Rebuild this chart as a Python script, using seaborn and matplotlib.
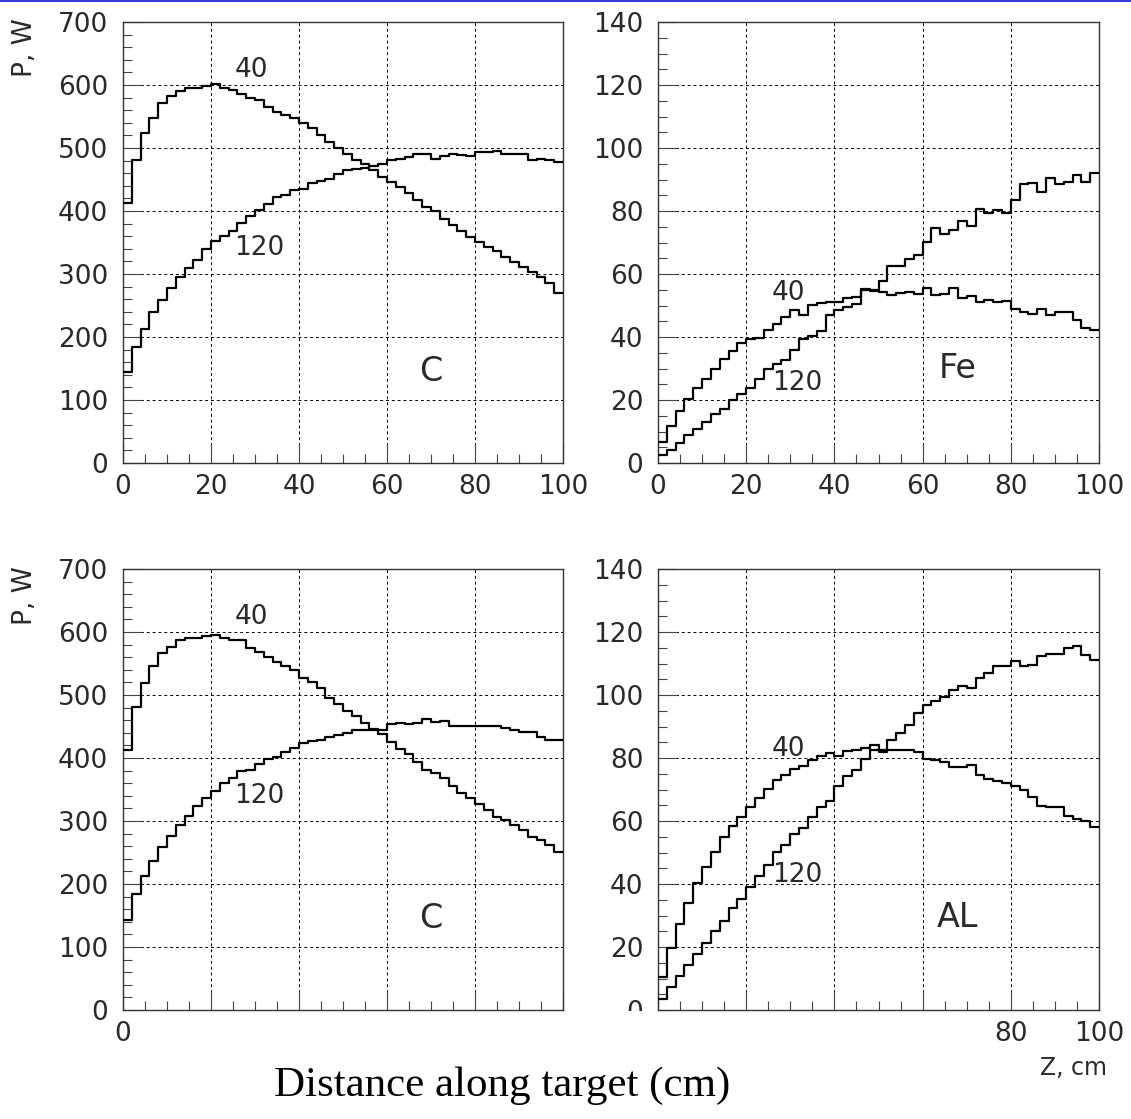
import numpy as np
import pandas as pd
import matplotlib
matplotlib.use("Agg")
import matplotlib.pyplot as plt
import seaborn as sns
from matplotlib.ticker import MultipleLocator
from matplotlib.patches import Rectangle

# ---------------- data (50 bins of 2 cm along the target) ----------------
z_centers = np.arange(1, 100, 2)          # bin centres, cm

c_top_40 = [412, 481, 524, 547, 571, 582, 590, 595, 596, 599,
            601, 596, 592, 585, 580, 576, 565, 557, 552, 547,
            540, 531, 520, 510, 500, 490, 481, 475, 465, 454,
            446, 438, 429, 417, 407, 400, 388, 377, 368, 359,
            351, 343, 336, 327, 319, 311, 303, 296, 285, 270]
c_top_120 = [144, 184, 213, 239, 258, 277, 295, 310, 323, 339,
             352, 360, 369, 381, 392, 402, 411, 422, 425, 433,
             435, 444, 447, 451, 458, 465, 466, 468, 471, 475,
             481, 482, 486, 490, 491, 483, 487, 491, 489, 488,
             494, 494, 495, 490, 491, 491, 481, 483, 481, 477]

fe_40 = [6.7, 11.7, 16.5, 20.4, 23.8, 26.6, 29.7, 33.1, 35.6, 38.1,
         39.5, 39.8, 42.3, 44.2, 46.3, 48.7, 47.1, 50.3, 50.8, 51.1,
         51.1, 52.4, 52.7, 55.3, 54.6, 54.3, 53.2, 54.1, 54.3, 53.8,
         55.7, 53.2, 53.8, 55.7, 52.4, 53.1, 51.1, 51.9, 51.1, 51.3,
         49.0, 47.9, 47.4, 49.0, 47.1, 47.9, 47.9, 45.3, 42.9, 42.3]
fe_120 = [2.4, 4.0, 6.3, 8.8, 10.9, 13.0, 15.7, 17.2, 19.9, 22.0,
          23.8, 26.8, 29.9, 31.3, 32.8, 36.0, 39.5, 40.2, 41.8, 46.9,
          48.5, 49.5, 50.6, 55.0, 54.8, 57.7, 62.4, 62.4, 64.9, 65.9,
          70.2, 74.6, 72.8, 73.9, 76.8, 75.2, 80.7, 79.4, 80.4, 79.4,
          83.6, 88.7, 89.0, 86.0, 90.5, 88.7, 89.2, 91.5, 89.2, 92.1]

c_bot_40 = [412, 481, 519, 546, 566, 576, 587, 590, 591, 594,
            596, 590, 587, 587, 574, 569, 561, 553, 546, 540,
            527, 520, 511, 495, 486, 475, 466, 456, 446, 438,
            426, 414, 407, 394, 381, 376, 368, 356, 345, 336,
            327, 317, 307, 301, 294, 285, 275, 270, 262, 251]
c_bot_120 = [143, 184, 213, 237, 258, 276, 294, 308, 324, 336,
             347, 361, 368, 379, 381, 391, 398, 402, 410, 416,
             424, 427, 429, 433, 437, 440, 445, 445, 445, 445,
             454, 456, 454, 456, 462, 457, 459, 451, 451, 451,
             451, 451, 451, 447, 445, 442, 441, 434, 428, 428]

al_40 = [10.4, 19.6, 27.2, 33.9, 40.3, 45.3, 50.2, 54.9, 58.3, 61.2,
         64.6, 67.3, 70.2, 73.1, 74.7, 76.5, 77.5, 79.4, 80.5, 81.6,
         80.5, 82.1, 82.6, 83.2, 84.0, 82.4, 82.4, 82.4, 82.4, 81.9,
         79.8, 79.4, 78.6, 77.1, 77.1, 77.9, 74.7, 73.3, 72.6, 72.2,
         71.2, 69.7, 67.6, 64.8, 64.6, 64.4, 61.7, 60.6, 60.1, 58.1]
al_120 = [3.4, 7.4, 10.8, 14.3, 17.8, 21.4, 25.2, 28.4, 32.3, 35.2,
          39.0, 42.6, 46.1, 50.1, 52.4, 55.9, 57.7, 61.2, 64.4, 66.5,
          71.0, 74.4, 76.1, 79.7, 82.6, 81.9, 85.8, 87.9, 90.6, 94.3,
          96.9, 98.0, 99.4, 101.7, 103.0, 102.2, 105.4, 107.0, 109.3, 109.3,
          110.9, 109.3, 109.6, 112.5, 113.1, 113.1, 114.9, 115.7, 112.8, 111.0]

materials = ["C", "Fe", "C", "AL"]
energy_labels = ["40", "120"]
x_ticks = [0, 20, 40, 60, 80, 100]
x_labels_full = ["0", "20", "40", "60", "80", "100"]
x_labels_bl = ["0", "", "", "", "", ""]
x_labels_br = ["", "", "", "", "80", "100"]
y_title = "P, W"
x_title_small = "Z, cm"
x_title_big = "Distance along target (cm)"

# ---------------- style ----------------
sns.set_theme(style="white")
plt.rcParams["font.family"] = ["DejaVu Sans"]

W, H = 1131, 1119
fig = plt.figure(figsize=(W / 100, H / 100), dpi=100)
fig.patch.set_facecolor("white")


def px_axes(x0, y0, x1, y1):
    return fig.add_axes([x0 / W, 1 - y1 / H, (x1 - x0) / W, (y1 - y0) / H])


panels = [
    dict(box=(123, 22, 563, 463), s40=c_top_40, s120=c_top_120, ymax=700,
         ymaj=100, ymin=20, xl=x_labels_full, mat=materials[0],
         p40=(29.3, 624), p120=(31, 341), pm=(70, 145)),
    dict(box=(658, 22, 1099, 463), s40=fe_40, s120=fe_120, ymax=140,
         ymaj=20, ymin=5, xl=x_labels_full, mat=materials[1],
         p40=(29.5, 54), p120=(31.5, 25.4), pm=(68, 30)),
    dict(box=(123, 569, 563, 1010), s40=c_bot_40, s120=c_bot_120, ymax=700,
         ymaj=100, ymin=20, xl=x_labels_bl, mat=materials[2],
         p40=(29.3, 624), p120=(31, 340), pm=(70, 146)),
    dict(box=(658, 569, 1099, 1010), s40=al_40, s120=al_120, ymax=140,
         ymaj=20, ymin=5, xl=x_labels_br, mat=materials[3],
         p40=(29.5, 83), p120=(31.5, 43), pm=(68, 29.5)),
]

txt_col = "#2a2a2a"
axes = []
for p in panels:
    ax = px_axes(*p["box"])
    axes.append(ax)
    for vals in (p["s40"], p["s120"]):
        df = pd.DataFrame({"z": z_centers, "P": vals})
        sns.histplot(data=df, x="z", weights="P", bins=50, binrange=(0, 100),
                     element="step", fill=False, color="black",
                     linewidth=1.6, ax=ax, zorder=3)
    ax.set_xlim(0, 100)
    ax.set_ylim(0, p["ymax"])
    ax.set_xlabel("")
    ax.set_ylabel("")
    ax.set_xticks(x_ticks)
    ax.set_xticklabels(p["xl"])
    ax.xaxis.set_minor_locator(MultipleLocator(5))
    ax.yaxis.set_major_locator(MultipleLocator(p["ymaj"]))
    ax.yaxis.set_minor_locator(MultipleLocator(p["ymin"]))
    ax.tick_params(axis="both", which="both", direction="in",
                   bottom=True, left=True, top=False, right=False,
                   color="#444444", width=0.8)
    ax.tick_params(axis="both", which="major", length=13.5, labelsize=19,
                   labelcolor=txt_col)
    ax.tick_params(axis="both", which="minor", length=6.5)
    ax.tick_params(axis="x", which="major", pad=8)
    ax.tick_params(axis="y", which="major", pad=10.5)
    ax.grid(True, which="major", color="black", linestyle=(0, (3, 3)),
            linewidth=0.7)
    ax.grid(False, which="minor")
    ax.set_axisbelow(True)
    for s in ax.spines.values():
        s.set_visible(True)
        s.set_color("#333333")
        s.set_linewidth(1.0)
    ax.text(*p["p40"], energy_labels[0], fontsize=19, color=txt_col,
            ha="center", va="center", zorder=5)
    ax.text(*p["p120"], energy_labels[1], fontsize=19, color=txt_col,
            ha="center", va="center", zorder=5)
    ax.text(*p["pm"], p["mat"], fontsize=24, color=txt_col,
            ha="center", va="center", zorder=5)

# the "0" label of the lower right panel is cut off below the frame line
fig.add_artist(Rectangle((600 / W, 1 - 1030 / H), 56 / W, 19.5 / H,
                         transform=fig.transFigure, facecolor="white",
                         edgecolor="none", zorder=10))

# y titles
for ytop in (18, 566):
    fig.text(25 / W, 1 - ytop / H, y_title, rotation=90, ha="center",
             va="top", fontsize=19, color=txt_col)

# small axis title and big caption
fig.text(1073 / W, 1 - 1068 / H, x_title_small, ha="center", va="center",
         fontsize=17, color=txt_col)
fig.text(502 / W, 1 - 1086 / H, x_title_big, ha="center", va="center",
         fontsize=31, family=["Liberation Serif", "DejaVu Serif"],
         color="black")

# thin blue rule along the top edge
fig.add_artist(Rectangle((0, 1 - 2 / H), 1, 2 / H, transform=fig.transFigure,
                         facecolor="#3a3ad8", edgecolor="none"))

fig.savefig("out.png", dpi=100)
